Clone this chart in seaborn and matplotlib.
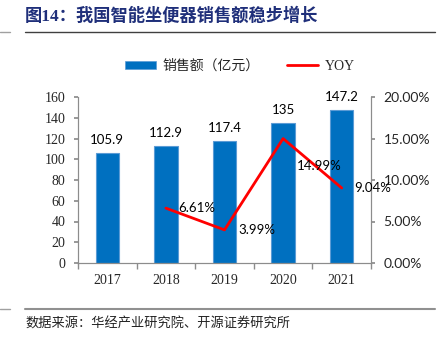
import matplotlib
matplotlib.use("Agg")
import matplotlib.pyplot as plt
import seaborn as sns
import pandas as pd
from matplotlib.lines import Line2D
from matplotlib.patches import Patch
from matplotlib.ticker import MultipleLocator, FuncFormatter

# 数据
years = ["2017", "2018", "2019", "2020", "2021"]
sales = [105.9, 112.9, 117.4, 135, 147.2]          # 销售额（亿元）
yoy_years = ["2018", "2019", "2020", "2021"]
yoy = [6.61, 3.99, 14.99, 9.04]                    # 同比增速（%）
sales_labels = ["105.9", "112.9", "117.4", "135", "147.2"]

sns.set_theme(style="white")
plt.rcParams["font.family"] = ["Liberation Serif", "Noto Sans CJK SC", "DejaVu Sans"]

BLUE = "#0070C0"
RED = "#FF0000"
NAVY = "#1F2F7A"
SPINE = "#8C8C8C"

fig = plt.figure(figsize=(4.4, 3.4), dpi=100)
ax = fig.add_axes([78 / 440, 1 - 263 / 340, (371 - 78) / 440, (263 - 97) / 340])

df = pd.DataFrame({"year": years, "sales": sales})
sns.barplot(data=df, x="year", y="sales", order=years, color=BLUE,
            width=0.4, saturation=1, edgecolor="#5B9BD5", linewidth=0.8, ax=ax)

ax.set_ylim(0, 160)
ax.set_xlim(-0.5, len(years) - 0.5)
ax.yaxis.set_major_locator(MultipleLocator(20))
ax.set_xlabel("")
ax.set_ylabel("")

for i, (v, lab) in enumerate(zip(sales, sales_labels)):
    ax.annotate(lab, (i, v), xytext=(0, 5), textcoords="offset points",
                ha="center", va="bottom", fontsize=9.5, family=["Lato", "DejaVu Sans"],
                color="#000000")

# 同比折线（右轴）
ax2 = ax.twinx()
yoy_pos = [years.index(y) for y in yoy_years]
ydf = pd.DataFrame({"pos": yoy_pos, "yoy": yoy})
sns.lineplot(data=ydf, x="pos", y="yoy", color=RED, linewidth=2, ax=ax2, legend=False)
ax2.set_ylim(0, 20)
ax2.set_xlim(-0.5, len(years) - 0.5)
ax2.yaxis.set_major_locator(MultipleLocator(5))
ax2.yaxis.set_major_formatter(FuncFormatter(lambda v, p: f"{v:.2f}%"))
ax2.set_ylabel("")
ax2.set_xlabel("")

offsets = [(9, 0), (10, 0), (10, -20), (9, 0)]
for p, v, off in zip(yoy_pos, yoy, offsets):
    ax2.annotate(f"{v:.2f}%", (p, v), xytext=off, textcoords="offset points",
                 ha="left", va="center", fontsize=9.5, family=["Lato", "DejaVu Sans"],
                 color="#000000")

# 坐标轴样式
for a in (ax, ax2):
    for s in a.spines.values():
        s.set_color(SPINE)
        s.set_linewidth(0.8)
    a.spines["top"].set_visible(False)

ax.set_xticks(range(len(years)))
ax.set_xticklabels(years)
ax.set_xticks([i - 0.5 for i in range(len(years) + 1)], minor=True)
ax.tick_params(axis="x", which="major", length=0, pad=8, labelsize=10)
ax.tick_params(axis="x", which="minor", length=4, color=SPINE, direction="out", bottom=True)
ax.tick_params(axis="y", which="major", length=3, color=SPINE, direction="out", left=True,
               labelsize=10, pad=6)
for t in ax.get_xticklabels() + ax.get_yticklabels():
    t.set_family(["Liberation Serif"])
ax2.tick_params(axis="y", which="major", length=3, color=SPINE, direction="out", right=True,
                labelsize=10, pad=6)
for t in ax2.get_yticklabels():
    t.set_family(["Lato", "DejaVu Sans"])

# 图例
handles = [Patch(facecolor=BLUE, edgecolor="#5B9BD5", linewidth=0.5, label="销售额（亿元）"),
           Line2D([0], [0], color=RED, linewidth=2, label="YOY")]
fig.legend(handles=handles, loc="center", bbox_to_anchor=(240 / 440, 1 - 66 / 340), ncol=2,
           frameon=False, handlelength=2.2, handleheight=0.5, handletextpad=0.5,
           columnspacing=2.0,
           prop={"family": ["Liberation Serif", "Noto Sans CJK SC"], "size": 10})

# 标题、来源及分隔线
fig.text(25 / 440, 1 - 16 / 340, "图14：我国智能坐便器销售额稳步增长", ha="left", va="center",
         fontsize=12.4, fontweight="bold", color=NAVY,
         family=["Liberation Serif", "Noto Sans CJK SC"])
fig.add_artist(Line2D([25 / 440, 435 / 440], [1 - 32 / 340] * 2, color="#404040", linewidth=1))
fig.add_artist(Line2D([0, 10 / 440], [1 - 32 / 340] * 2, color="#A0A0A0", linewidth=1))
fig.add_artist(Line2D([25 / 440, 435 / 440], [1 - 309 / 340] * 2, color="#909090", linewidth=1.5))
fig.add_artist(Line2D([0, 10 / 440], [1 - 309 / 340] * 2, color="#A0A0A0", linewidth=1))
fig.text(25 / 440, 1 - 324 / 340, "数据来源：华经产业研究院、开源证券研究所", ha="left", va="center",
         fontsize=9.5, color="#222222", family=["Noto Sans CJK SC"])

fig.savefig("out.png", dpi=100)
